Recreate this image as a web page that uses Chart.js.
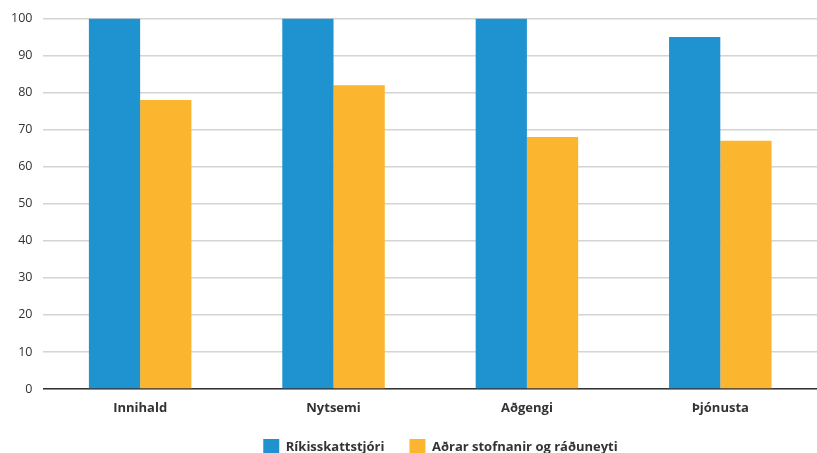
<!DOCTYPE html>
<html>
<head>
<meta charset="utf-8">
<script src="https://cdn.jsdelivr.net/npm/chart.js@4"></script>
<style>
  html, body { margin: 0; padding: 0; background: #fff; }
  #wrap { width: 817px; height: 453px; }
</style>
</head>
<body>
<div id="wrap"><canvas id="myChart"></canvas></div>
<script>
const categories = ["Innihald", "Nytsemi", "Aðgengi", "Þjónusta"];
const seriesNames = ["Ríkisskattstjóri", "Aðrar stofnanir og ráðuneyti"];
const rskValues = [100, 100, 100, 95];
const otherValues = [78, 82, 68, 67];
const yTicks = [0, 10, 20, 30, 40, 50, 60, 70, 80, 90, 100];

const fontFamily = "'Open Sans', 'Noto Sans', sans-serif";

// legend sits a little right of centre in the original
const shiftLegend = {
  id: "shiftLegend",
  afterLayout(chart) {
    if (chart.legend) chart.legend.left += 64;
  }
};

new Chart("myChart", {
  type: "bar",
  data: {
    labels: categories,
    datasets: [
      { label: seriesNames[0], data: rskValues, backgroundColor: "#1f93d0" },
      { label: seriesNames[1], data: otherValues, backgroundColor: "#fbb52e" }
    ]
  },
  plugins: [shiftLegend],
  options: {
    responsive: true,
    maintainAspectRatio: false,
    animation: false,
    datasets: { bar: { barPercentage: 1, categoryPercentage: 0.53 } },
    layout: { padding: { top: 10, right: 0, left: 0, bottom: -12 } },
    plugins: {
      legend: {
        position: "bottom",
        labels: {
          boxWidth: 16,
          boxHeight: 16,
          padding: 25,
          color: "#333",
          font: { family: fontFamily, size: 13, weight: "bold" }
        }
      },
      tooltip: { enabled: false }
    },
    scales: {
      x: {
        grid: { display: false, drawTicks: false },
        border: { color: "#333", width: 1.5 },
        afterFit: scale => {
          scale.height = 25;
          // don't cut the descenders off the labels
          scale._computeLabelArea = () => undefined;
        },
        ticks: {
          color: "#333",
          padding: 11,
          font: { family: fontFamily, size: 13, weight: "bold" }
        }
      },
      y: {
        min: 0,
        max: 100,
        afterBuildTicks: axis => { axis.ticks = yTicks.map(v => ({ value: v })); },
        grid: { color: "#d4d4d4", lineWidth: 1.5, drawTicks: false },
        border: { display: false },
        ticks: {
          color: "#333",
          padding: 11,
          font: { family: fontFamily, size: 12.5 }
        }
      }
    }
  }
});
</script>
</body>
</html>
